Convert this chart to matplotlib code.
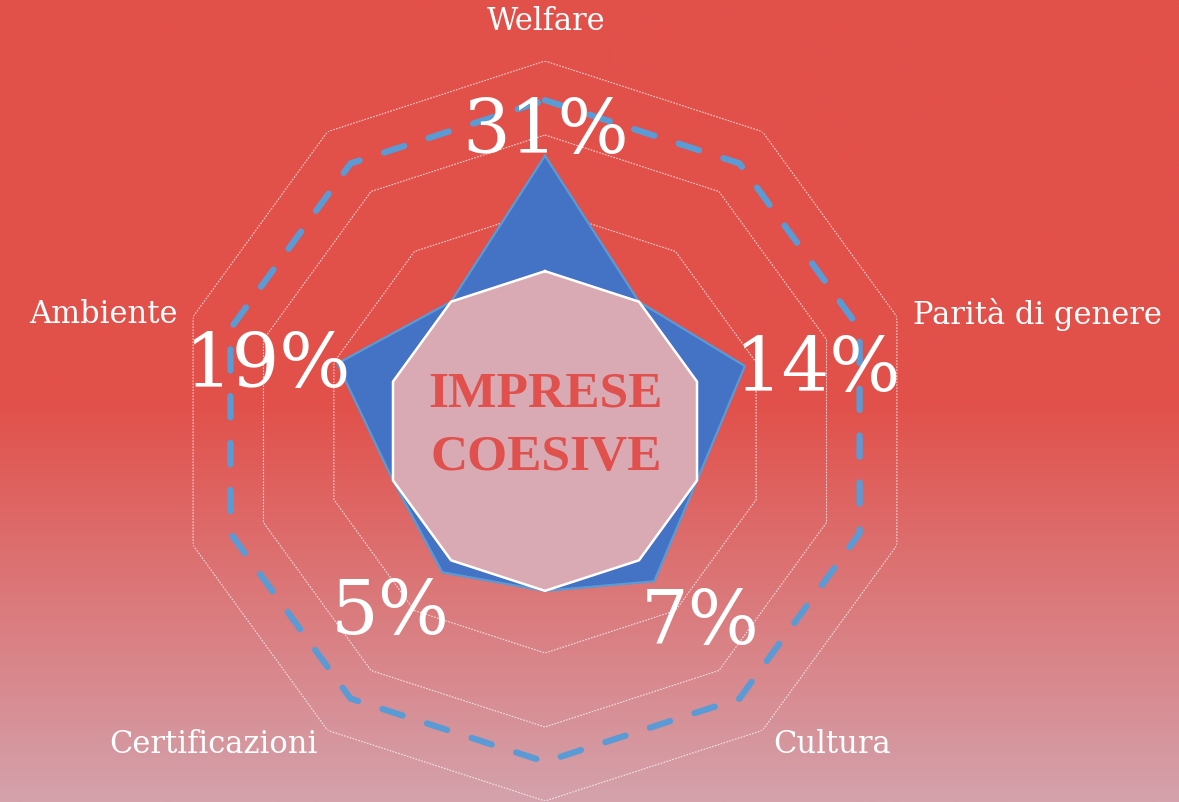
#!/usr/bin/env python3
"""Decagon radar chart 'Imprese coesive' with gradient background."""

import numpy as np
import matplotlib.pyplot as plt
from matplotlib.colors import LinearSegmentedColormap

# ---- data -------------------------------------------------------------
categories = ["Welfare", "Parità di genere", "Cultura", "Certificazioni", "Ambiente"]
percent_labels = ["31%", "14%", "7%", "5%", "19%"]
# ten spokes: categories sit on even spokes, odd spokes stay on the core
series_values = [3.72, 2.16, 2.84, 2.16, 2.51, 2.16, 2.36, 2.16, 2.95, 2.16]
core_values = [2.16] * 10
ring_values = [1, 2, 3, 4, 5]
dashed_value = 4.47

COLORS = {
    "bg_top": "#E2504A",
    "bg_bottom": "#D4A2AC",
    "series": "#4472C4",
    "series_edge": "#5B9BD5",
    "core": "#D9AAB3",
    "dash": "#5B9BD5",
    "title": "#E0504C",
}

W, H = 1179, 803
CX, CY, R = 545, 432, 370  # centre and outer radius in pixels

fig = plt.figure(figsize=(W / 100, H / 100), dpi=100)

# gradient background: flat red in the upper half, fading to pink below
bg = fig.add_axes([0, 0, 1, 1], zorder=0)
cmap = LinearSegmentedColormap.from_list("bg", [COLORS["bg_top"], COLORS["bg_bottom"]], N=256)
t = np.linspace(0, 1, 400).reshape(-1, 1)
grad = np.clip((t - 0.5) / 0.5, 0, 1)
bg.imshow(grad, aspect="auto", cmap=cmap, vmin=0, vmax=1, extent=[0, 1, 0, 1], origin="upper")
bg.axis("off")

ax = fig.add_axes([(CX - R) / W, (H - CY - R) / H, 2 * R / W, 2 * R / H], projection="polar", zorder=1)
ax.set_facecolor("none")
ax.set_theta_zero_location("N")
ax.set_theta_direction(-1)
ax.set_ylim(0, ring_values[-1])
ax.grid(False)
ax.spines["polar"].set_visible(False)
ax.set_xticks([])
ax.set_yticks([])

n = len(series_values)
theta = np.linspace(0, 2 * np.pi, n, endpoint=False)
tc = np.append(theta, theta[0])

def closed(vals):
    return np.append(vals, vals[0])

# dotted decagon grid
for rv in ring_values:
    ax.plot(tc, [rv] * (n + 1), color="white", lw=0.8, alpha=0.75,
            linestyle=(0, (1.5, 1.2)), zorder=1)

ax.fill(tc, closed(series_values), color=COLORS["series"], zorder=2)
ax.plot(tc, closed(series_values), color=COLORS["series_edge"], lw=1.6, zorder=3)

ax.fill(tc, closed(core_values), color=COLORS["core"], zorder=4)
ax.plot(tc, closed(core_values), color="white", lw=1.8, zorder=5)

ax.plot(tc, [dashed_value] * (n + 1), color=COLORS["dash"], lw=4.5,
        linestyle=(0, (3.4, 4.1)), dash_capstyle="round", zorder=6)

# text
serif = ["DejaVu Serif"]

def ftext(x, y, s, family=serif, **kw):
    fig.text(x / W, 1 - y / H, s, family=family, zorder=10, **kw)

cat_pos = [(546, 22, "center"), (913, 315, "left"), (773, 745, "left"),
           (318, 745, "right"), (178, 315, "right")]
for (x, y, ha), lab in zip(cat_pos, categories):
    ftext(x, y, lab, size=22, color="white", ha=ha, va="center")

pct_pos = [(546, 133), (818, 370), (700, 624), (390, 614), (268, 367)]
for (x, y), lab in zip(pct_pos, percent_labels):
    ftext(x, y, lab, size=54, color="white", ha="center", va="center")

title_font = ["Liberation Serif", "DejaVu Serif"]
ftext(546, 395, "IMPRESE", family=title_font, size=37, weight="bold",
      color=COLORS["title"], ha="center", va="center")
ftext(546, 458, "COESIVE", family=title_font, size=37, weight="bold",
      color=COLORS["title"], ha="center", va="center")

fig.savefig("out.png", dpi=100)
